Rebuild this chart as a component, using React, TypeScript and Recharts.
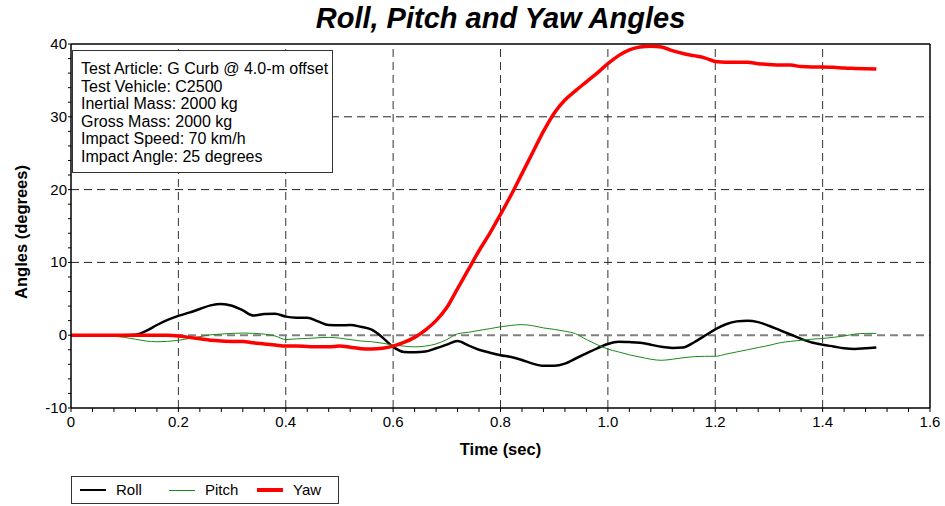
import React from "react";
import { LineChart, Line, XAxis, YAxis, ReferenceLine } from "recharts";

// Time base (sec) and the three angle traces (degrees)
const TIME = [
  0, 0.02, 0.04, 0.06, 0.08, 0.1, 0.12, 0.14, 0.16, 0.18, 0.2, 0.22, 0.24, 0.26, 0.28, 0.3,
  0.32, 0.34, 0.36, 0.38, 0.4, 0.42, 0.44, 0.46, 0.48, 0.5, 0.52, 0.54, 0.56, 0.58, 0.6,
  0.62, 0.64, 0.66, 0.68, 0.7, 0.72, 0.74, 0.76, 0.78, 0.8, 0.82, 0.84, 0.86, 0.88, 0.9,
  0.92, 0.94, 0.96, 0.98, 1.0, 1.02, 1.04, 1.06, 1.08, 1.1, 1.12, 1.14, 1.16, 1.18, 1.2,
  1.22, 1.24, 1.26, 1.28, 1.3, 1.32, 1.34, 1.36, 1.38, 1.4, 1.42, 1.44, 1.46, 1.48, 1.5,
];

const ROLL = [
  0, 0, 0, 0, 0, 0, 0.05, 0.6, 1.4, 2.1, 2.65, 3.1, 3.6, 4.1, 4.3, 4.05,
  3.4, 2.7, 2.9, 2.95, 2.55, 2.4, 2.4, 1.9, 1.4, 1.35, 1.4, 1.15, 0.75, -0.3, -1.6,
  -2.3, -2.35, -2.25, -1.8, -1.3, -0.8, -1.4, -2.0, -2.4, -2.75, -3.0, -3.4, -3.9, -4.2, -4.2,
  -3.9, -3.2, -2.5, -1.8, -1.2, -0.9, -0.95, -1.05, -1.3, -1.6, -1.75, -1.7, -1.0, -0.1, 0.8,
  1.5, 1.9, 2.0, 1.8, 1.3, 0.7, 0.1, -0.5, -1.0, -1.3, -1.55, -1.8, -1.9, -1.8, -1.7,
];

const PITCH = [
  0, 0, -0.05, -0.1, -0.15, -0.3, -0.55, -0.8, -0.9, -0.85, -0.7, -0.45, -0.2, 0.05, 0.15, 0.25,
  0.3, 0.25, 0.15, -0.1, -0.6, -0.5, -0.45, -0.35, -0.3, -0.4, -0.6, -0.8, -0.9, -1.1, -1.35,
  -1.5, -1.6, -1.5, -1.2, -0.6, 0.2, 0.4, 0.65, 0.9, 1.15, 1.35, 1.45, 1.3, 1.0, 0.8,
  0.55, 0.2, -0.6, -1.3, -1.9, -2.3, -2.7, -3.0, -3.3, -3.45, -3.3, -3.1, -2.95, -2.9, -2.9,
  -2.6, -2.3, -2.0, -1.7, -1.4, -1.05, -0.85, -0.7, -0.55, -0.45, -0.3, -0.1, 0.15, 0.25, 0.25,
];

const YAW = [
  0, 0, 0, 0, 0, 0, 0, 0, 0, 0, -0.1, -0.3, -0.5, -0.7, -0.8, -0.85,
  -0.85, -1.05, -1.2, -1.35, -1.5, -1.5, -1.55, -1.6, -1.6, -1.5, -1.65, -1.85, -1.9, -1.8, -1.5,
  -1.0, -0.3, 0.7, 2.0, 3.8, 6.4, 9.0, 11.6, 14.0, 16.6, 19.3, 22.2, 25.1, 28.0, 30.5,
  32.3, 33.6, 34.8, 36.0, 37.3, 38.4, 39.2, 39.6, 39.7, 39.6, 39.1, 38.7, 38.4, 38.1, 37.6,
  37.5, 37.5, 37.5, 37.3, 37.2, 37.1, 37.1, 36.9, 36.85, 36.85, 36.8, 36.7, 36.65, 36.6, 36.55,
];

const X_TICKS = [
  0, 0.04, 0.08, 0.12, 0.16, 0.2, 0.24, 0.28, 0.32, 0.36, 0.4, 0.44, 0.48, 0.52, 0.56, 0.6,
  0.64, 0.68, 0.72, 0.76, 0.8, 0.84, 0.88, 0.92, 0.96, 1.0, 1.04, 1.08, 1.12, 1.16, 1.2,
  1.24, 1.28, 1.32, 1.36, 1.4, 1.44, 1.48, 1.52, 1.56, 1.6,
];
const X_MAJOR = [0, 0.2, 0.4, 0.6, 0.8, 1.0, 1.2, 1.4, 1.6];
const Y_TICKS = [
  -10, -8, -6, -4, -2, 0, 2, 4, 6, 8, 10, 12, 14, 16, 18, 20, 22, 24, 26, 28, 30, 32, 34, 36, 38, 40,
];
const Y_MAJOR = [-10, 0, 10, 20, 30, 40];
const GRID_X = [0.2, 0.4, 0.6, 0.8, 1.0, 1.2, 1.4];
const GRID_Y = [10, 20, 30];

const INFO_LINES = [
  "Test Article: G Curb @ 4.0-m offset",
  "Test Vehicle: C2500",
  "Inertial Mass: 2000 kg",
  "Gross Mass: 2000 kg",
  "Impact Speed: 70 km/h",
  "Impact Angle: 25 degrees",
];

const SERIES = [
  { key: "roll", name: "Roll", color: "#000000", width: 2.5 },
  { key: "pitch", name: "Pitch", color: "#1a8a1a", width: 1 },
  { key: "yaw", name: "Yaw", color: "#ff0000", width: 3.5 },
];

const data = TIME.map((t, i) => ({ t, roll: ROLL[i], pitch: PITCH[i], yaw: YAW[i] }));

const FONT = "'Liberation Sans', Arial, Helvetica, sans-serif";

function XTick({ x, y, payload }: any) {
  const v = payload.value;
  const major = X_MAJOR.includes(v);
  return (
    <g>
      <line x1={x} x2={x} y1={y} y2={y + 4} stroke="#000" strokeWidth={1} />
      {major && (
        <text x={x} y={y + 19} textAnchor="middle" fontSize={15} fontFamily={FONT} fill="#000">
          {v === 0 ? "0" : v.toFixed(1)}
        </text>
      )}
    </g>
  );
}

function YTick({ x, y, payload }: any) {
  const v = payload.value;
  const major = Y_MAJOR.includes(v);
  return (
    <g>
      <line x1={x - 3} x2={x} y1={y} y2={y} stroke="#000" strokeWidth={1} />
      {major && (
        <text x={x - 4} y={y + 5} textAnchor="end" fontSize={15} fontFamily={FONT} fill="#000">
          {v}
        </text>
      )}
    </g>
  );
}

export default function App() {
  return (
    <div
      style={{
        position: "absolute",
        left: 0,
        top: 0,
        width: 945,
        height: 506,
        background: "#fff",
        fontFamily: FONT,
      }}
    >
      {/* title */}
      <div
        style={{
          position: "absolute",
          left: 71,
          width: 859,
          top: 2,
          textAlign: "center",
          fontSize: 29,
          lineHeight: "32px",
          fontWeight: "bold",
          fontStyle: "italic",
        }}
      >
        Roll, Pitch and Yaw Angles
      </div>

      <LineChart
        width={945}
        height={506}
        data={data}
        margin={{ top: 44, right: 15, bottom: 68, left: 0 }}
        style={{ position: "absolute", left: 0, top: 0 }}
      >
        <XAxis
          dataKey="t"
          type="number"
          domain={[0, 1.6]}
          ticks={X_TICKS}
          interval={0}
          height={30}
          tickSize={0}
          tickMargin={0}
          tickLine={false}
          axisLine={{ stroke: "#000", strokeWidth: 1.5 }}
          tick={(p: any) => <XTick {...p} />}
        />
        <YAxis
          type="number"
          domain={[-10, 40]}
          ticks={Y_TICKS}
          interval={0}
          width={71}
          tickSize={0}
          tickMargin={0}
          tickLine={false}
          axisLine={{ stroke: "#000", strokeWidth: 1.5 }}
          tick={(p: any) => <YTick {...p} />}
        />
        {GRID_X.map((v) => (
          <ReferenceLine key={"gx" + v} x={v} stroke="#333" strokeDasharray="8 5" strokeWidth={1} />
        ))}
        {GRID_Y.map((v) => (
          <ReferenceLine key={"gy" + v} y={v} stroke="#222" strokeDasharray="8 5" strokeWidth={1} />
        ))}
        <ReferenceLine y={0} stroke="#808080" strokeDasharray="8 5" strokeWidth={2} />
        <ReferenceLine y={40} stroke="#000" strokeWidth={1.5} />
        <ReferenceLine x={1.6} stroke="#000" strokeWidth={1.5} />
        {SERIES.map((s) => (
          <Line
            key={s.key}
            dataKey={s.key}
            name={s.name}
            type="monotone"
            stroke={s.color}
            strokeWidth={s.width}
            dot={false}
            activeDot={false}
            isAnimationActive={false}
          />
        ))}
      </LineChart>

      {/* test info box */}
      <div
        style={{
          position: "absolute",
          left: 72,
          top: 50,
          width: 251,
          height: 112,
          border: "1px solid #333",
          background: "#fff",
          padding: "9px 0 0 8px",
          fontSize: 16,
          lineHeight: "17.5px",
        }}
      >
        {INFO_LINES.map((l) => (
          <div key={l} style={{ whiteSpace: "nowrap" }}>
            {l}
          </div>
        ))}
      </div>

      {/* axis titles */}
      <div
        style={{
          position: "absolute",
          left: 71,
          width: 859,
          top: 440,
          textAlign: "center",
          fontSize: 16.5,
          fontWeight: "bold",
        }}
      >
        Time (sec)
      </div>
      <div
        style={{
          position: "absolute",
          left: 21,
          top: 232,
          transform: "translate(-50%, -50%) rotate(-90deg)",
          whiteSpace: "nowrap",
          fontSize: 16.5,
          fontWeight: "bold",
        }}
      >
        Angles (degrees)
      </div>

      {/* legend */}
      <div
        style={{
          position: "absolute",
          left: 71,
          top: 476,
          width: 266,
          height: 26,
          border: "1px solid #333",
          background: "#fff",
        }}
      >
        {SERIES.map((s, i) => {
          const lx = [8, 97, 185][i];
          return (
            <React.Fragment key={s.key}>
              <div
                style={{
                  position: "absolute",
                  left: lx,
                  top: 13 - s.width / 2,
                  width: 26,
                  height: s.width,
                  background: s.color,
                }}
              />
              <div
                style={{
                  position: "absolute",
                  left: lx + 36,
                  top: 4,
                  fontSize: 15,
                  lineHeight: "18px",
                }}
              >
                {s.name}
              </div>
            </React.Fragment>
          );
        })}
      </div>
    </div>
  );
}
